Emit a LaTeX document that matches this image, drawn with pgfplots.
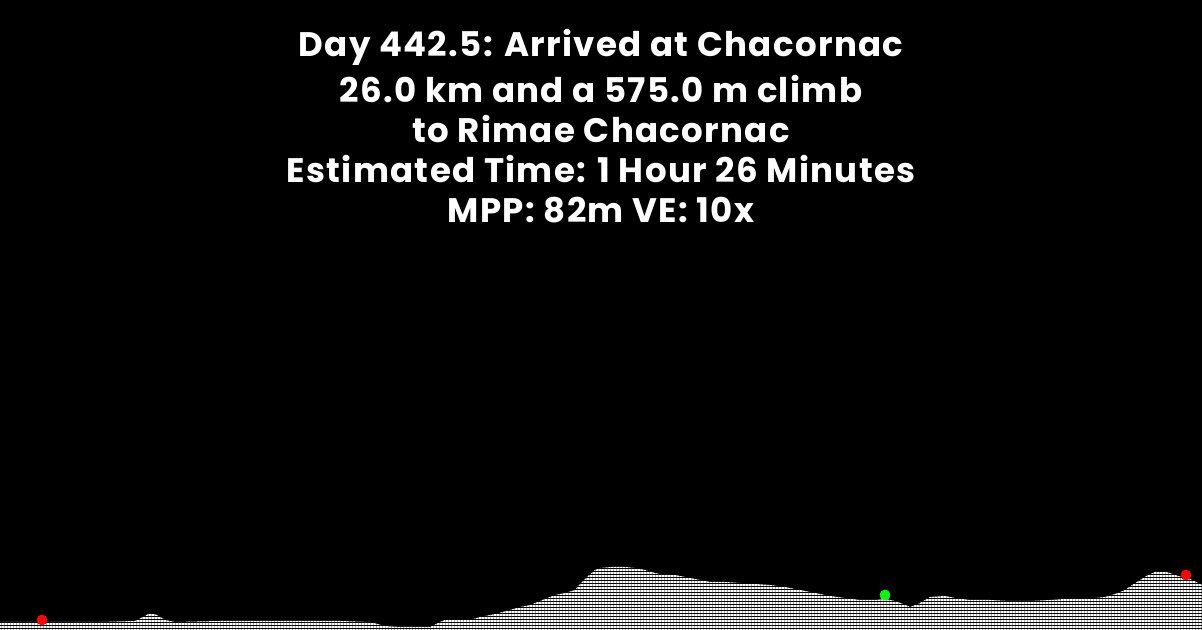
\documentclass[border=0pt]{standalone}
\usepackage{pgfplots}
\pgfplotsset{compat=1.18}
\usetikzlibrary{patterns.meta}
\usepackage{fontspec}
\setmainfont{Poppins}[LetterSpace=4]
\definecolor{mygreen}{RGB}{20,240,20}
\definecolor{myred}{RGB}{240,10,10}
\begin{document}
\begin{tikzpicture}[x=1pt,y=1pt]
\useasboundingbox (0,0) rectangle (601,315);
\fill[black] (0,0) rectangle (601,315);
\begin{axis}[
  at={(0,0)}, anchor=south west,
  scale only axis, width=601pt, height=315pt,
  xmin=0, xmax=1202, ymin=0, ymax=630,
  axis lines=none, ticks=none, clip=true,
]
\addplot[draw=none, pattern={Lines[angle=0,distance=1.5pt,line width=0.55pt]}, pattern color=white] table {
x h
0 8
20 8
60 8
100 8
135 9
143 13
150 17
157 15
165 10
175 8
220 9
260 9
300 9
340 9
370 8
385 4
400 3
430 3
440 8
447 11
460 10
470 10
480 13
495 16
510 20
520 23
530 25
540 29
555 35
565 37
575 40
580 46
588 54
595 60
600 62
612 63
625 63
635 62
645 60
655 57
665 55
675 55
690 52
700 50
710 48
725 48
740 47
755 46
770 45
785 43
800 40
815 37
830 34
845 32
860 30
875 30
885 31
895 29
903 26
910 23
918 26
925 30
930 33
945 34
955 32
970 30
990 30
1010 29
1030 29
1050 30
1065 31
1080 31
1095 32
1105 33
1115 36
1125 40
1132 45
1140 50
1148 55
1155 58
1162 59
1170 57
1178 54
1190 51
1202 45
} \closedcycle;
\addplot[only marks, mark=*, mark size=2.5pt, myred] coordinates {(42,10) (1186,55)};
\addplot[only marks, mark=*, mark size=2.5pt, mygreen] coordinates {(885,35)};
\end{axis}
\begin{scope}[every node/.style={anchor=base, text=white, font=\bfseries\fontsize{17}{20}\selectfont, inner sep=0pt}]
\node at (300.5,286.5) {Day 442.5: Arrived at Chacornac};
\node at (300.5,263.5) {26.0 km and a 575.0 m climb};
\node at (300.5,243.5) {to Rimae Chacornac};
\node at (300.5,223.5) {Estimated Time: 1 Hour 26 Minutes};
\node at (300.5,203.5) {MPP: 82m VE: 10x};
\end{scope}
\end{tikzpicture}
\end{document}
